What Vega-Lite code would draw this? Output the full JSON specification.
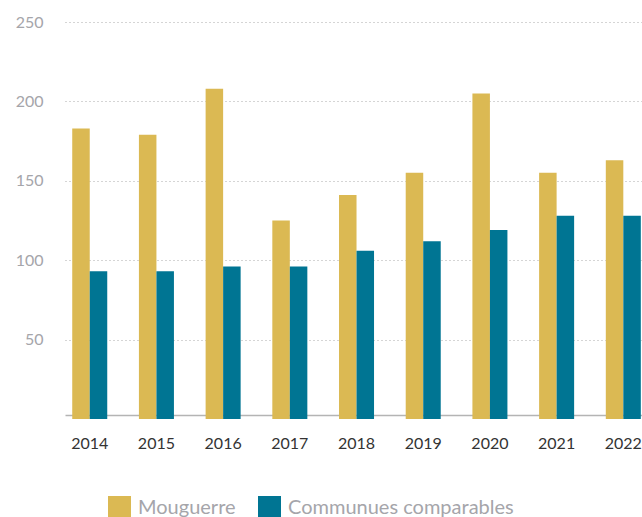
{
  "$schema": "https://vega.github.io/schema/vega-lite/v6.json",
  "width": 577,
  "height": 397,
  "autosize": {"type": "none"},
  "padding": {"left": 65, "top": 22, "right": 0, "bottom": 98},
  "config": {"view": {"stroke": null}, "font": "Lato"},
  "data": {"values": [
    {"year": "2014", "serie": "Mouguerre", "value": 183},
    {"year": "2015", "serie": "Mouguerre", "value": 179},
    {"year": "2016", "serie": "Mouguerre", "value": 208},
    {"year": "2017", "serie": "Mouguerre", "value": 125},
    {"year": "2018", "serie": "Mouguerre", "value": 141},
    {"year": "2019", "serie": "Mouguerre", "value": 155},
    {"year": "2020", "serie": "Mouguerre", "value": 205},
    {"year": "2021", "serie": "Mouguerre", "value": 155},
    {"year": "2022", "serie": "Mouguerre", "value": 163},
    {"year": "2014", "serie": "Communues comparables", "value": 93},
    {"year": "2015", "serie": "Communues comparables", "value": 93},
    {"year": "2016", "serie": "Communues comparables", "value": 96},
    {"year": "2017", "serie": "Communues comparables", "value": 96},
    {"year": "2018", "serie": "Communues comparables", "value": 106},
    {"year": "2019", "serie": "Communues comparables", "value": 112},
    {"year": "2020", "serie": "Communues comparables", "value": 119},
    {"year": "2021", "serie": "Communues comparables", "value": 128},
    {"year": "2022", "serie": "Communues comparables", "value": 128}
  ]},
  "mark": {"type": "bar"},
  "encoding": {
    "x": {
      "field": "year", "type": "nominal",
      "scale": {"paddingInner": 0.475, "paddingOuter": 0.063, "align": 0.86},
      "axis": {
        "title": null, "labelAngle": 0, "ticks": false,
        "domainColor": "#b4b4b4", "domainWidth": 1.5, "offset": -4,
        "labelPadding": 20, "labelFontSize": 16, "labelColor": "#333333"
      }
    },
    "xOffset": {"field": "serie", "type": "nominal", "sort": ["Mouguerre", "Communues comparables"], "scale": {"paddingInner": 0}},
    "y": {
      "field": "value", "type": "quantitative",
      "scale": {"domain": [0, 250], "nice": false},
      "axis": {
        "title": null, "values": [50, 100, 150, 200, 250], "domain": false, "ticks": false,
        "labelPadding": 22, "labelFontSize": 16, "labelColor": "#a5a5aa",
        "gridColor": "#aaaaaa", "gridDash": [1, 3], "gridWidth": 1
      }
    },
    "color": {
      "field": "serie", "type": "nominal",
      "scale": {"domain": ["Mouguerre", "Communues comparables"], "range": ["#DBB953", "#007593"]},
      "legend": {
        "title": null, "orient": "none", "legendX": 43, "legendY": 474,
        "direction": "horizontal", "symbolType": "square", "symbolSize": 529,
        "symbolStrokeWidth": 0, "symbolOpacity": 1, "labelFontSize": 20, "labelColor": "#a5a5aa",
        "labelLimit": 0, "columnPadding": 22, "labelOffset": 7
      }
    }
  }
}
